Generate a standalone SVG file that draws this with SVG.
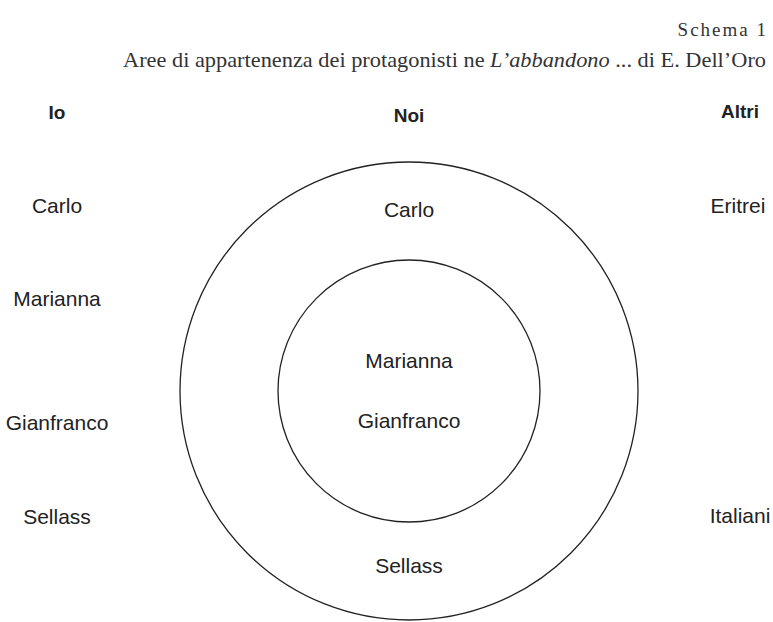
<svg xmlns="http://www.w3.org/2000/svg" width="773" height="622" viewBox="0 0 773 622">
<style>
.t{font-family:"Liberation Sans",Arial,sans-serif;font-size:21px;fill:#222;text-anchor:middle}
.h{font-family:"Liberation Sans",Arial,sans-serif;font-size:19px;font-weight:bold;fill:#222;text-anchor:middle}
.s{font-family:"Liberation Serif","Times New Roman",serif;fill:#333}
.c{fill:none;stroke:#222;stroke-width:1.3}
</style>
<rect width="773" height="622" fill="#fff"/>
<g id="title">
<text class="s" x="768" y="36" font-size="19" letter-spacing="2" text-anchor="end">Schema 1</text>
<text class="s" x="123" y="67" font-size="21" textLength="643" lengthAdjust="spacingAndGlyphs">Aree di appartenenza dei protagonisti ne <tspan font-style="italic">L’abbandono</tspan> ... di E. Dell’Oro</text>
</g>
<g id="headers">
<text class="h" x="57" y="119">Io</text>
<text class="h" x="409" y="122">Noi</text>
<text class="h" x="740" y="118">Altri</text>
</g>
<g id="outer-circle"><circle class="c" cx="409" cy="391" r="229"/></g>
<g id="inner-circle"><circle class="c" cx="409" cy="391" r="131"/></g>
<g id="io">
<text class="t" x="57" y="213">Carlo</text>
<text class="t" x="57" y="306">Marianna</text>
<text class="t" x="57" y="430">Gianfranco</text>
<text class="t" x="57" y="524">Sellass</text>
</g>
<g id="noi">
<text class="t" x="409" y="217">Carlo</text>
<text class="t" x="409" y="368">Marianna</text>
<text class="t" x="409" y="428">Gianfranco</text>
<text class="t" x="409" y="573">Sellass</text>
</g>
<g id="altri">
<text class="t" x="738" y="213">Eritrei</text>
<text class="t" x="740" y="523">Italiani</text>
</g>
<g id="connectors"/>
</svg>
